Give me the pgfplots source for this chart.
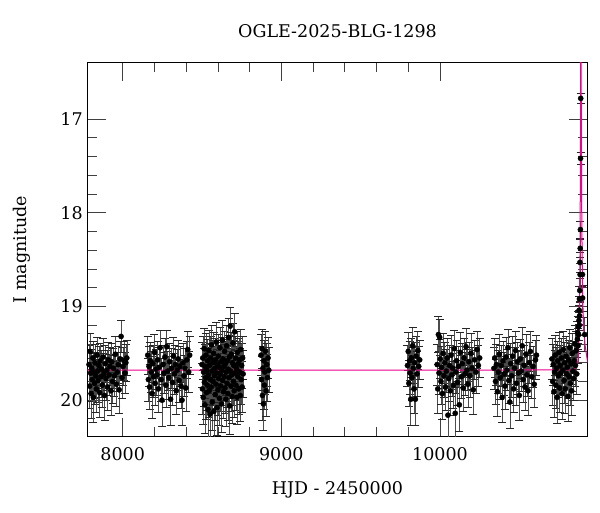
\documentclass[border=0pt]{standalone}
\usepackage{fontspec}
\setmainfont{DejaVu Serif}
\usepackage{pgfplots}
\pgfplotsset{compat=1.18}
\usepackage{pgfplotstable}

% photometry: HJD-2450000, I mag, error
\pgfplotstableread{
t m e
7788 19.62 0.21
7792 19.85 0.24
7795 19.48 0.19
7798 19.71 0.22
7801 19.93 0.26
7805 19.66 0.2
7808 19.78 0.23
7812 19.55 0.18
7815 19.97 0.27
7819 19.70 0.21
7823 19.82 0.22
7826 19.60 0.2
7830 19.74 0.24
7834 19.88 0.25
7838 19.52 0.19
7842 19.69 0.2
7846 19.79 0.23
7850 19.63 0.21
7855 19.92 0.26
7859 19.58 0.19
7863 19.75 0.22
7868 19.67 0.2
7872 19.84 0.24
7877 19.54 0.2
7881 19.72 0.22
7886 19.95 0.27
7890 19.61 0.2
7895 19.77 0.23
7900 19.68 0.21
7905 19.86 0.25
7910 19.57 0.19
7915 19.73 0.22
7920 19.64 0.2
7926 19.90 0.26
7931 19.59 0.2
7936 19.80 0.23
7942 19.66 0.21
7948 19.74 0.22
7954 19.51 0.19
7960 19.83 0.24
7966 19.70 0.21
7972 19.62 0.2
7978 19.89 0.25
7984 19.56 0.19
7990 19.32 0.17
7996 19.76 0.22
8002 19.64 0.2
8008 19.58 0.21
8014 19.71 0.22
8020 19.60 0.2
8026 19.55 0.19
8158 19.52 0.2
8162 19.78 0.23
8166 19.64 0.21
8170 19.86 0.24
8175 19.58 0.2
8180 19.70 0.22
8185 19.93 0.26
8190 19.61 0.2
8195 19.75 0.22
8200 19.49 0.19
8205 19.82 0.24
8210 19.67 0.21
8215 19.73 0.22
8220 19.57 0.2
8225 19.88 0.25
8230 19.65 0.21
8236 19.44 0.19
8242 19.78 0.23
8248 20.00 0.28
8254 19.62 0.21
8260 19.71 0.22
8266 19.54 0.2
8272 19.84 0.24
8278 19.43 0.18
8284 19.69 0.21
8290 19.76 0.23
8296 19.59 0.2
8302 19.99 0.28
8308 19.66 0.21
8314 19.81 0.24
8320 19.53 0.2
8326 19.72 0.22
8332 19.62 0.21
8338 19.90 0.25
8344 19.68 0.22
8350 19.56 0.2
8356 19.79 0.23
8362 19.64 0.21
8368 19.85 0.24
8374 20.00 0.27
8380 19.60 0.21
8386 19.74 0.22
8392 19.66 0.21
8398 19.87 0.25
8404 19.57 0.2
8410 19.46 0.19
8416 19.70 0.22
8422 19.52 0.2
8500 19.62 0.24
8503 19.88 0.27
8505 19.55 0.23
8508 19.97 0.29
8510 19.70 0.25
8513 19.45 0.22
8515 19.81 0.26
8518 20.05 0.3
8520 19.64 0.24
8523 19.76 0.25
8525 19.52 0.23
8528 19.92 0.28
8530 19.68 0.24
8533 19.84 0.27
8535 19.58 0.23
8538 20.10 0.31
8540 19.73 0.25
8543 19.47 0.22
8545 19.90 0.28
8548 19.63 0.24
8550 20.15 0.32
8553 19.78 0.26
8555 19.55 0.23
8558 19.86 0.27
8560 19.41 0.21
8563 19.69 0.24
8565 20.02 0.3
8568 19.60 0.24
8570 19.80 0.26
8573 19.50 0.22
8575 20.12 0.31
8578 19.74 0.25
8580 19.66 0.24
8583 19.94 0.28
8585 19.57 0.23
8588 19.83 0.26
8590 19.38 0.21
8593 19.71 0.25
8595 20.08 0.3
8598 19.62 0.24
8600 19.89 0.27
8603 19.53 0.23
8605 19.77 0.25
8608 19.65 0.24
8610 19.98 0.29
8613 19.44 0.22
8615 19.72 0.25
8618 19.85 0.27
8620 19.59 0.23
8623 20.04 0.3
8625 19.68 0.24
8628 19.36 0.21
8630 19.79 0.26
8633 19.56 0.23
8635 19.91 0.28
8638 19.64 0.24
8640 19.75 0.25
8643 19.48 0.22
8645 19.87 0.27
8648 19.61 0.24
8650 19.99 0.29
8653 19.70 0.25
8655 19.42 0.22
8658 19.82 0.26
8660 19.58 0.23
8663 19.93 0.28
8665 19.67 0.24
8668 19.33 0.2
8670 19.76 0.25
8673 19.54 0.23
8675 20.06 0.3
8678 19.21 0.2
8680 19.69 0.24
8683 19.85 0.27
8685 19.51 0.23
8688 19.73 0.25
8690 19.96 0.29
8693 19.60 0.24
8695 19.39 0.21
8698 19.80 0.26
8700 19.63 0.24
8703 19.90 0.28
8706 19.27 0.2
8708 19.71 0.25
8711 19.55 0.23
8714 19.84 0.27
8717 19.66 0.24
8720 19.97 0.29
8723 19.49 0.22
8726 19.75 0.25
8729 19.61 0.24
8732 19.88 0.27
8735 19.57 0.23
8738 19.70 0.25
8741 19.95 0.28
8744 19.46 0.22
8747 19.78 0.26
8750 19.63 0.24
8753 19.86 0.27
8756 19.55 0.23
8759 19.72 0.25
8872 19.52 0.22
8875 19.78 0.25
8878 19.45 0.21
8881 19.95 0.27
8884 19.66 0.23
8887 20.04 0.28
8890 19.58 0.22
8893 19.84 0.26
8896 19.70 0.24
8900 19.48 0.21
8904 19.90 0.27
8908 19.62 0.23
8912 19.76 0.25
8916 19.55 0.22
8921 19.68 0.24
9795 19.63 0.22
9800 19.48 0.2
9804 19.82 0.25
9808 19.58 0.21
9812 19.71 0.23
9816 19.99 0.28
9820 19.55 0.21
9824 19.76 0.24
9828 19.42 0.2
9832 19.66 0.22
9836 19.88 0.26
9840 19.60 0.22
9845 19.99 0.28
9850 19.53 0.21
9855 19.72 0.24
9860 19.47 0.2
9866 19.64 0.22
9872 19.57 0.21
9982 19.62 0.22
9986 19.88 0.26
9990 19.30 0.19
9994 19.71 0.23
9998 19.33 0.19
10002 19.56 0.21
10006 19.80 0.24
10010 19.65 0.22
10015 19.93 0.27
10020 19.50 0.21
10025 19.74 0.23
10030 19.60 0.22
10035 19.86 0.25
10040 19.69 0.23
10045 19.55 0.21
10050 20.16 0.3
10055 19.77 0.24
10060 19.63 0.22
10065 19.90 0.26
10070 19.52 0.21
10075 19.73 0.23
10080 19.66 0.22
10085 19.84 0.25
10090 19.45 0.2
10096 20.14 0.3
10100 19.70 0.23
10105 19.58 0.22
10110 19.81 0.24
10116 19.64 0.22
10122 20.05 0.28
10128 19.49 0.21
10134 19.75 0.23
10140 19.61 0.22
10146 19.87 0.25
10152 19.55 0.21
10158 19.72 0.23
10164 19.43 0.2
10170 19.68 0.22
10176 19.83 0.25
10182 19.59 0.21
10188 19.74 0.23
10195 19.50 0.21
10202 19.66 0.22
10210 19.89 0.26
10218 19.57 0.21
10226 19.70 0.23
10234 19.46 0.2
10242 19.63 0.22
10250 19.55 0.21
10340 19.66 0.22
10345 19.55 0.21
10350 19.80 0.24
10356 19.62 0.22
10362 19.91 0.26
10368 19.70 0.23
10374 19.51 0.21
10380 19.76 0.23
10386 19.63 0.22
10392 19.97 0.27
10398 19.58 0.21
10404 19.72 0.23
10410 19.85 0.25
10416 19.54 0.21
10422 19.68 0.22
10428 19.44 0.2
10434 19.79 0.24
10440 20.02 0.28
10446 19.61 0.22
10452 19.74 0.23
10458 19.53 0.21
10464 19.88 0.25
10470 19.66 0.22
10476 19.47 0.2
10482 19.82 0.24
10488 19.59 0.21
10494 19.71 0.23
10500 19.95 0.27
10506 19.56 0.21
10512 19.69 0.22
10518 19.42 0.2
10524 19.78 0.24
10530 19.63 0.22
10536 19.86 0.25
10542 19.51 0.21
10548 19.73 0.23
10555 19.90 0.26
10562 19.60 0.22
10570 19.48 0.21
10578 19.75 0.23
10586 19.64 0.22
10594 19.83 0.25
10602 19.57 0.21
10608 19.52 0.21
10706 19.56 0.22
10710 19.80 0.25
10714 19.62 0.22
10718 19.91 0.27
10722 19.70 0.23
10726 19.52 0.21
10730 19.84 0.25
10734 19.66 0.22
10738 19.97 0.28
10742 19.58 0.21
10746 19.74 0.23
10750 19.49 0.21
10754 19.87 0.26
10758 19.63 0.22
10762 19.71 0.23
10766 19.55 0.21
10770 19.93 0.27
10774 19.68 0.22
10778 19.46 0.2
10782 19.79 0.24
10786 19.60 0.22
10790 19.88 0.26
10794 19.53 0.21
10798 19.72 0.23
10802 19.65 0.22
10806 19.96 0.27
10810 19.57 0.21
10814 19.75 0.23
10818 19.44 0.2
10822 19.82 0.24
10826 19.61 0.22
10830 19.90 0.26
10834 19.50 0.21
10838 19.69 0.22
10842 19.77 0.23
10846 19.58 0.21
10850 19.40 0.2
10854 19.63 0.22
10858 19.47 0.2
10862 19.72 0.22
10866 19.35 0.19
10868 19.28 0.18
10870 19.42 0.19
10872 19.22 0.17
10874 19.30 0.18
10876 19.15 0.16
10877 19.04 0.15
10878 19.20 0.16
10879 18.92 0.14
10880 19.10 0.15
10881 18.83 0.13
10882 18.53 0.11
10883 18.66 0.12
10884 18.38 0.1
10885 18.18 0.09
10886 17.42 0.06
10887 16.78 0.05
10898 18.66 0.12
10899 18.91 0.14
10912 19.30 0.18
}\phot

% model curve
\pgfplotstableread{
t m
7777 19.68
10800 19.678
10840 19.675
10855 19.66
10862 19.635
10868 19.59
10872 19.52
10876 19.38
10879 19.15
10881 18.85
10882.5 18.45
10884 17.9
10885.5 17.25
10886.5 16.75
10887.5 16.2
10888.5 16.0
10889.5 16.3
10891 17.1
10893 17.9
10896 18.5
10900 18.95
10906 19.25
10915 19.42
10931 19.6
}\model

\begin{document}
\begin{tikzpicture}[font=\fontsize{17.5}{21}\selectfont]
\begin{axis}[
    width=500.4pt, height=374.4pt, scale only axis,
    xmin=7777, xmax=10931,
    ymin=16.395, ymax=20.39,
    y dir=reverse,
    xtick={8000,9000,10000}, minor x tick num=4,
    ytick={17,18,19,20}, minor y tick num=4,
    tick align=inside,
    major tick length=19pt, minor tick length=10pt,
    tick style={black!75, line width=0.6pt},
    axis line style={line width=1pt},
    scaled x ticks=false,
    /pgf/number format/1000 sep={},
    /pgf/number format/assume math mode=true,
    tick label style={font=\fontsize{17.5}{21}\selectfont},
    xticklabel style={yshift=-7pt},
    yticklabel style={xshift=-1pt},
    title={OGLE-2025-BLG-1298},
    title style={at={(axis description cs:0.5,1.0668)}, anchor=center},
    xlabel={HJD - 2450000},
    xlabel style={at={(axis description cs:0.5,-0.1416)}, anchor=center},
    ylabel={I magnitude},
    ylabel style={at={(axis description cs:-0.13,0.5)}, anchor=center},
]
\addplot[only marks, mark=*, mark size=2.6pt, black,
    error bars/.cd, y dir=both, y explicit,
    error bar style={black!70, line width=0.6pt},
    error mark options={black!85, mark size=4pt, line width=0.6pt, rotate=90}]
    table[x=t, y=m, y error=e] {\phot};
\addplot[magenta, line width=1pt] table[x=t, y=m] {\model};
\end{axis}
\path (current axis.south west) ++(-87.3pt,-75.3pt)
    rectangle ([shift={(12.3pt,62.3pt)}]current axis.north east);
\end{tikzpicture}
\end{document}
